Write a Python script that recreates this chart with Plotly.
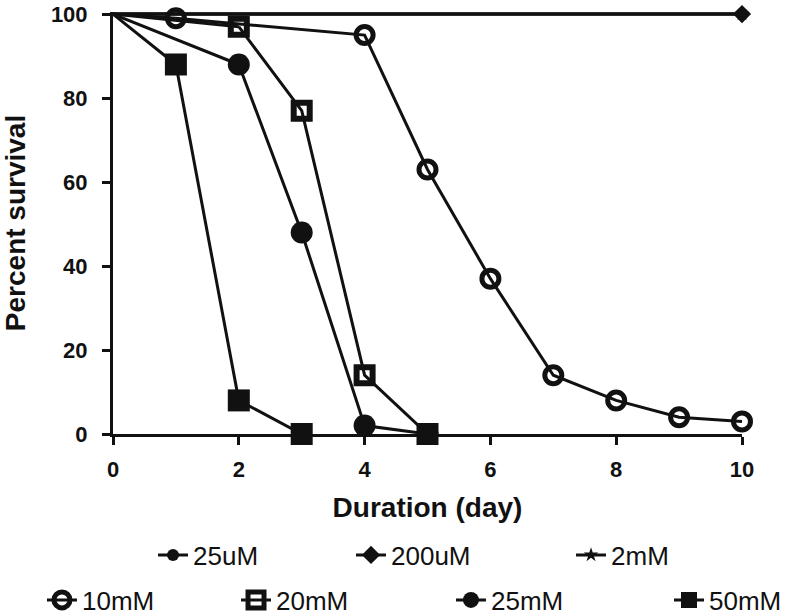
import plotly.graph_objects as go

# ---------------- data ----------------
days_25uM = [0, 10]
surv_25uM = [100, 100]
days_200uM = [0, 10]
surv_200uM = [100, 100]
days_2mM = [0, 10]
surv_2mM = [100, 100]
days_10mM = [0, 1, 4, 5, 6, 7, 8, 9, 10]
surv_10mM = [100, 99, 95, 63, 37, 14, 8, 4, 3]
days_20mM = [0, 2, 3, 4, 5]
surv_20mM = [100, 97, 77, 14, 0]
days_25mM = [0, 2, 3, 4, 5]
surv_25mM = [100, 88, 48, 2, 0]
days_50mM = [0, 1, 2, 3]
surv_50mM = [100, 88, 8, 0]

x_ticks = [0, 2, 4, 6, 8, 10]
y_ticks = [0, 20, 40, 60, 80, 100]

FONT = "Liberation Sans, Arial, Helvetica, sans-serif"
BLACK = "#111111"

series = [
    # name, x, y, symbol, size, marker line width, legend id
    ("25uM", days_25uM, surv_25uM, "circle", 12, 0, "legend"),
    ("2mM", days_2mM, surv_2mM, "star", 11, 0, "legend3"),
    ("200uM", days_200uM, surv_200uM, "diamond", 14, 0, "legend2"),
    ("10mM", days_10mM, surv_10mM, "circle-open", 17, 5, "legend4"),
    ("20mM", days_20mM, surv_20mM, "square-open", 16, 6, "legend5"),
    ("25mM", days_25mM, surv_25mM, "circle", 22, 0, "legend6"),
    ("50mM", days_50mM, surv_50mM, "square", 22, 0, "legend7"),
]

fig = go.Figure()
for name, xs, ys, sym, size, mlw, leg in series:
    # first segment from day 0 (no marker at day 0)
    fig.add_trace(go.Scatter(
        x=xs[:2], y=ys[:2], mode="lines",
        line=dict(color=BLACK, width=3),
        showlegend=False, hoverinfo="skip", cliponaxis=False,
    ))
    fig.add_trace(go.Scatter(
        x=xs[1:], y=ys[1:], mode="lines+markers", name=name,
        line=dict(color=BLACK, width=3),
        marker=dict(symbol=sym, size=size, color=BLACK,
                    line=dict(color=BLACK, width=mlw)),
        legend=leg, cliponaxis=False,
    ))

legend_font = dict(family=FONT, size=26, color=BLACK)
row1_y = 0.099
row2_y = 0.026
legend_pos = {
    "legend": (0.1932, row1_y),
    "legend2": (0.4432, row1_y),
    "legend3": (0.721, row1_y),
    "legend4": (0.053, row2_y),
    "legend5": (0.298, row2_y),
    "legend6": (0.5694, row2_y),
    "legend7": (0.8447, row2_y),
}
legend_layout = {}
for k, (lx, ly) in legend_pos.items():
    legend_layout[k] = dict(x=lx, y=ly, xref="container", yref="container",
                            xanchor="left", yanchor="middle",
                            font=legend_font, bgcolor="rgba(0,0,0,0)",
                            borderwidth=0, orientation="h")

fig.update_layout(
    width=792, height=616, autosize=False,
    margin=dict(l=113, r=50, t=12, b=182),
    paper_bgcolor="white", plot_bgcolor="white",
    font=dict(family=FONT, color=BLACK),
    **legend_layout,
)

axis_common = dict(
    showline=True, linewidth=3, linecolor=BLACK,
    ticks="outside", ticklen=8, tickwidth=3, tickcolor=BLACK,
    showgrid=False, zeroline=False, ticklabeloverflow="allow",
    tickfont=dict(family=FONT, size=22, color=BLACK, weight="bold"),
)
fig.update_xaxes(
    range=[0, 10], tickvals=x_ticks, ticktext=[str(v) for v in x_ticks],
    ticklabelstandoff=6,
    title=dict(text="Duration (day)", font=dict(family=FONT, size=28, color=BLACK, weight="bold"), standoff=16),
    automargin=False, **axis_common,
)
fig.update_yaxes(
    range=[0, 100.5], tickvals=y_ticks, ticktext=[str(v) for v in y_ticks],
    ticklabelstandoff=10,
    title=dict(text="Percent survival", font=dict(family=FONT, size=28, color=BLACK, weight="bold"), standoff=20),
    automargin=False, **axis_common,
)

fig.write_html("out.html", config={"displayModeBar": False},
               post_script="document.body.style.margin='0';")
